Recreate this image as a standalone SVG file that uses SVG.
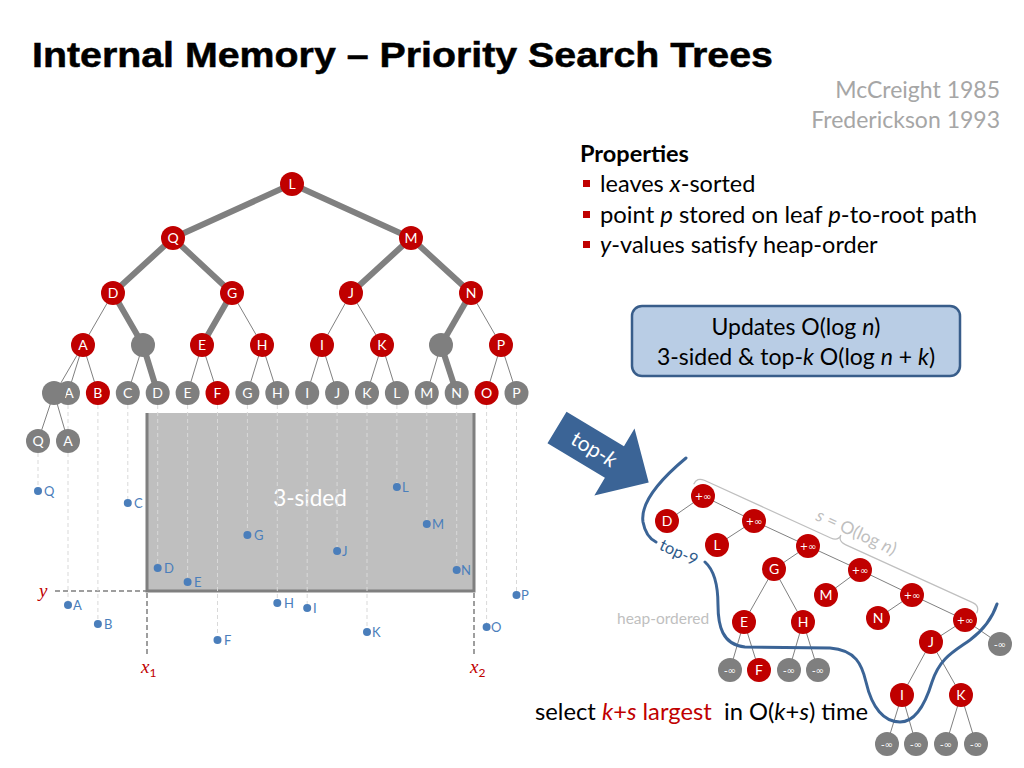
<svg xmlns="http://www.w3.org/2000/svg" width="1024" height="768" viewBox="0 0 1024 768">
<style>
.t{font-family:Lato,"Liberation Sans",sans-serif}
.thick{stroke:#808080;stroke-width:6;stroke-linecap:round;fill:none}
.thin{stroke:#808080;stroke-width:1;fill:none}
.dash{stroke:#D9D9D9;stroke-width:1;stroke-dasharray:4 3;fill:none}
.red{fill:#C00000}
.gray{fill:#7F7F7F}
.nl{font-family:Lato,"Liberation Sans",sans-serif;font-size:14px;fill:#fff;text-anchor:middle}
.inf{font-family:"DejaVu Sans",sans-serif;font-size:10px;fill:#fff;text-anchor:middle}
.pt{fill:#4A7EBB}
.pl{font-family:Lato,"Liberation Sans",sans-serif;font-size:13px;fill:#4A7EBB}
.lbl{font-family:"Liberation Serif",serif;font-style:italic;font-size:19px;fill:#C00000}
</style>
<rect width="1024" height="768" fill="#fff"/>
<text x="32" y="67" font-family="Liberation Sans,sans-serif" font-weight="bold" font-size="35" textLength="741" lengthAdjust="spacingAndGlyphs" stroke="#000" stroke-width="0.5">Internal Memory – Priority Search Trees</text>
<g id="refs" class="t" fill="#A6A6A6" font-size="23" text-anchor="end">
<text x="1000" y="98">McCreight 1985</text>
<text x="1000" y="128">Frederickson 1993</text>
</g>
<g id="properties" class="t" font-size="23.5" fill="#000">
<text x="580" y="162" font-weight="bold">Properties</text>
<rect x="583" y="180" width="7" height="7" fill="#C00000"/>
<rect x="583" y="211" width="7" height="7" fill="#C00000"/>
<rect x="583" y="241" width="7" height="7" fill="#C00000"/>
<text x="600" y="192">leaves <tspan font-style="italic">x</tspan>-sorted</text>
<text x="600" y="223" textLength="377" lengthAdjust="spacingAndGlyphs">point <tspan font-style="italic">p</tspan> stored on leaf <tspan font-style="italic">p</tspan>-to-root path</text>
<text x="600" y="253"><tspan font-style="italic">y</tspan>-values satisfy heap-order</text>
</g>
<g id="updates">
<rect x="632" y="306" width="328" height="70" rx="10" fill="#B9CDE5" stroke="#385D8A" stroke-width="2.5"/>
<text class="t" x="796" y="335" font-size="23" text-anchor="middle">Updates O(log <tspan font-style="italic">n</tspan>)</text>
<text class="t" x="796" y="365" font-size="23" text-anchor="middle">3-sided &amp; top-<tspan font-style="italic">k</tspan> O(log <tspan font-style="italic">n</tspan> + <tspan font-style="italic">k</tspan>)</text>
</g>
<!-- 3-sided region -->
<g id="region">
<rect x="147" y="413" width="327" height="178" fill="#BFBFBF"/>
<polyline points="147,413 147,591 474,591 474,413" fill="none" stroke="#7F7F7F" stroke-width="3"/>
<text class="t" x="310" y="506" font-size="22.5" fill="#fff" text-anchor="middle">3-sided</text>
<g stroke="#7F7F7F" stroke-width="1.5" stroke-dasharray="5 3" fill="none">
<line x1="55" y1="591" x2="147" y2="591"/>
<line x1="147" y1="593" x2="147" y2="656"/>
<line x1="474" y1="593" x2="474" y2="656"/>
</g>
<text class="lbl" x="39" y="597">y</text>
<text class="lbl" x="141" y="673">x<tspan font-size="12" font-style="normal" font-family="Lato,sans-serif" dy="4">1</tspan></text>
<text class="lbl" x="470" y="673">x<tspan font-size="12" font-style="normal" font-family="Lato,sans-serif" dy="4">2</tspan></text>
</g>
<g id="connectors">
<g class="dash">
<line x1="38" y1="453" x2="38" y2="487"/>
<line x1="68" y1="405" x2="68" y2="429"/>
<line x1="68" y1="453" x2="68" y2="601"/>
<line x1="97.9" y1="405" x2="97.9" y2="620"/>
<line x1="127.8" y1="405" x2="127.8" y2="499"/>
<line x1="157.7" y1="405" x2="157.7" y2="564"/>
<line x1="187.6" y1="405" x2="187.6" y2="578"/>
<line x1="217.5" y1="405" x2="217.5" y2="636"/>
<line x1="247.4" y1="405" x2="247.4" y2="531"/>
<line x1="277.3" y1="405" x2="277.3" y2="599"/>
<line x1="307.2" y1="405" x2="307.2" y2="604"/>
<line x1="337.1" y1="405" x2="337.1" y2="547"/>
<line x1="367" y1="405" x2="367" y2="628"/>
<line x1="396.9" y1="405" x2="396.9" y2="483"/>
<line x1="426.8" y1="405" x2="426.8" y2="520"/>
<line x1="456.7" y1="405" x2="456.7" y2="566"/>
<line x1="486.6" y1="405" x2="486.6" y2="623"/>
<line x1="516.5" y1="405" x2="516.5" y2="591"/>
</g>
<g class="thick">
<line x1="292" y1="184" x2="173" y2="238"/>
<line x1="292" y1="184" x2="411" y2="238"/>
<line x1="173" y1="238" x2="113" y2="293"/>
<line x1="173" y1="238" x2="232" y2="293"/>
<line x1="411" y1="238" x2="351" y2="293"/>
<line x1="411" y1="238" x2="471" y2="293"/>
<line x1="113" y1="293" x2="143" y2="345"/>
<line x1="143" y1="345" x2="157.7" y2="393"/>
<line x1="232" y1="293" x2="202" y2="345"/>
<line x1="471" y1="293" x2="441" y2="345"/>
<line x1="441" y1="345" x2="456.7" y2="393"/>
</g>
<g class="thin">
<line x1="113" y1="293" x2="83" y2="345"/>
<line x1="232" y1="293" x2="262" y2="345"/>
<line x1="351" y1="293" x2="322" y2="345"/>
<line x1="351" y1="293" x2="382" y2="345"/>
<line x1="471" y1="293" x2="501" y2="345"/>
<line x1="83" y1="345" x2="55" y2="393"/>
<line x1="83" y1="345" x2="68" y2="393"/>
<line x1="83" y1="345" x2="97.9" y2="393"/>
<line x1="143" y1="345" x2="127.8" y2="393"/>
<line x1="202" y1="345" x2="187.6" y2="393"/>
<line x1="202" y1="345" x2="217.5" y2="393"/>
<line x1="262" y1="345" x2="247.4" y2="393"/>
<line x1="262" y1="345" x2="277.3" y2="393"/>
<line x1="322" y1="345" x2="307.2" y2="393"/>
<line x1="322" y1="345" x2="337.1" y2="393"/>
<line x1="382" y1="345" x2="367" y2="393"/>
<line x1="382" y1="345" x2="396.9" y2="393"/>
<line x1="441" y1="345" x2="426.8" y2="393"/>
<line x1="501" y1="345" x2="486.6" y2="393"/>
<line x1="501" y1="345" x2="516.5" y2="393"/>
<line x1="54" y1="393" x2="38" y2="441"/>
<line x1="54" y1="393" x2="68" y2="441"/>
</g>
<!-- heap tree edges -->
<g class="thin">
<line x1="703" y1="496" x2="667" y2="521"/>
<line x1="703" y1="496" x2="754" y2="521"/>
<line x1="754" y1="521" x2="717" y2="545"/>
<line x1="754" y1="521" x2="808" y2="546"/>
<line x1="808" y1="546" x2="774" y2="569"/>
<line x1="808" y1="546" x2="860" y2="570"/>
<line x1="774" y1="569" x2="744" y2="622"/>
<line x1="774" y1="569" x2="803" y2="622"/>
<line x1="860" y1="570" x2="826" y2="595"/>
<line x1="860" y1="570" x2="912" y2="595"/>
<line x1="912" y1="595" x2="878" y2="618"/>
<line x1="912" y1="595" x2="965" y2="620"/>
<line x1="965" y1="620" x2="931" y2="642"/>
<line x1="965" y1="620" x2="1000" y2="644"/>
<line x1="744" y1="622" x2="730" y2="670"/>
<line x1="744" y1="622" x2="759" y2="670"/>
<line x1="803" y1="622" x2="789" y2="670"/>
<line x1="803" y1="622" x2="818" y2="670"/>
<line x1="931" y1="642" x2="902" y2="695"/>
<line x1="931" y1="642" x2="961" y2="695"/>
<line x1="902" y1="695" x2="887" y2="744"/>
<line x1="902" y1="695" x2="916" y2="744"/>
<line x1="961" y1="695" x2="946" y2="744"/>
<line x1="961" y1="695" x2="976" y2="744"/>
</g>
</g>
<!-- top tree nodes -->
<g id="n-L"><circle cx="292" cy="184" r="12" class="red"/><text class="nl" x="292" y="189">L</text></g>
<g id="n-Q"><circle cx="173" cy="238" r="12" class="red"/><text class="nl" x="173" y="243">Q</text></g>
<g id="n-M"><circle cx="411" cy="238" r="12" class="red"/><text class="nl" x="411" y="243">M</text></g>
<g id="n-D"><circle cx="113" cy="293" r="12" class="red"/><text class="nl" x="113" y="298">D</text></g>
<g id="n-G"><circle cx="232" cy="293" r="12" class="red"/><text class="nl" x="232" y="298">G</text></g>
<g id="n-J"><circle cx="351" cy="293" r="12" class="red"/><text class="nl" x="351" y="298">J</text></g>
<g id="n-N"><circle cx="471" cy="293" r="12" class="red"/><text class="nl" x="471" y="298">N</text></g>
<g id="n-A"><circle cx="83" cy="345" r="12" class="red"/><text class="nl" x="83" y="350">A</text></g>
<g id="n-g1"><circle cx="143" cy="345" r="12" class="gray"/></g>
<g id="n-E"><circle cx="202" cy="345" r="12" class="red"/><text class="nl" x="202" y="350">E</text></g>
<g id="n-H"><circle cx="262" cy="345" r="12" class="red"/><text class="nl" x="262" y="350">H</text></g>
<g id="n-I"><circle cx="322" cy="345" r="12" class="red"/><text class="nl" x="322" y="350">I</text></g>
<g id="n-K"><circle cx="382" cy="345" r="12" class="red"/><text class="nl" x="382" y="350">K</text></g>
<g id="n-g2"><circle cx="441" cy="345" r="12" class="gray"/></g>
<g id="n-P"><circle cx="501" cy="345" r="12" class="red"/><text class="nl" x="501" y="350">P</text></g>
<!-- leaves -->
<g id="leaf-A"><circle cx="68" cy="393" r="12" class="gray"/><text class="nl" x="69" y="398">A</text></g>
<g id="leaf-blob"><circle cx="54" cy="393" r="12" class="gray"/></g>
<g id="leaf-B"><circle cx="97.9" cy="393" r="12" class="red"/><text class="nl" x="97.9" y="398">B</text></g>
<g id="leaf-C"><circle cx="127.8" cy="393" r="12" class="gray"/><text class="nl" x="127.8" y="398">C</text></g>
<g id="leaf-D"><circle cx="157.7" cy="393" r="12" class="gray"/><text class="nl" x="157.7" y="398">D</text></g>
<g id="leaf-E"><circle cx="187.6" cy="393" r="12" class="gray"/><text class="nl" x="187.6" y="398">E</text></g>
<g id="leaf-F"><circle cx="217.5" cy="393" r="12" class="red"/><text class="nl" x="217.5" y="398">F</text></g>
<g id="leaf-G"><circle cx="247.4" cy="393" r="12" class="gray"/><text class="nl" x="247.4" y="398">G</text></g>
<g id="leaf-H"><circle cx="277.3" cy="393" r="12" class="gray"/><text class="nl" x="277.3" y="398">H</text></g>
<g id="leaf-I"><circle cx="307.2" cy="393" r="12" class="gray"/><text class="nl" x="307.2" y="398">I</text></g>
<g id="leaf-J"><circle cx="337.1" cy="393" r="12" class="gray"/><text class="nl" x="337.1" y="398">J</text></g>
<g id="leaf-K"><circle cx="367" cy="393" r="12" class="gray"/><text class="nl" x="367" y="398">K</text></g>
<g id="leaf-L"><circle cx="396.9" cy="393" r="12" class="gray"/><text class="nl" x="396.9" y="398">L</text></g>
<g id="leaf-M"><circle cx="426.8" cy="393" r="12" class="gray"/><text class="nl" x="426.8" y="398">M</text></g>
<g id="leaf-N"><circle cx="456.7" cy="393" r="12" class="gray"/><text class="nl" x="456.7" y="398">N</text></g>
<g id="leaf-O"><circle cx="486.6" cy="393" r="12" class="red"/><text class="nl" x="486.6" y="398">O</text></g>
<g id="leaf-P"><circle cx="516.5" cy="393" r="12" class="gray"/><text class="nl" x="516.5" y="398">P</text></g>
<g id="leaf-Q2"><circle cx="38" cy="441" r="12" class="gray"/><text class="nl" x="38" y="446">Q</text></g>
<g id="leaf-A2"><circle cx="68" cy="441" r="12" class="gray"/><text class="nl" x="68" y="446">A</text></g>
<!-- points -->
<g id="points">
<circle cx="38" cy="491" r="4" class="pt"/><text class="pl" x="44" y="496">Q</text>
<circle cx="68" cy="605" r="4" class="pt"/><text class="pl" x="73" y="610">A</text>
<circle cx="97.9" cy="624" r="4" class="pt"/><text class="pl" x="104" y="629">B</text>
<circle cx="127.8" cy="503" r="4" class="pt"/><text class="pl" x="134" y="508">C</text>
<circle cx="157.7" cy="568" r="4" class="pt"/><text class="pl" x="164" y="573">D</text>
<circle cx="187.6" cy="582" r="4" class="pt"/><text class="pl" x="194" y="587">E</text>
<circle cx="217.5" cy="640" r="4" class="pt"/><text class="pl" x="224" y="645">F</text>
<circle cx="247.4" cy="535" r="4" class="pt"/><text class="pl" x="254" y="540">G</text>
<circle cx="277.3" cy="603" r="4" class="pt"/><text class="pl" x="284" y="608">H</text>
<circle cx="307.2" cy="608" r="4" class="pt"/><text class="pl" x="313" y="613">I</text>
<circle cx="337.1" cy="551" r="4" class="pt"/><text class="pl" x="342" y="556">J</text>
<circle cx="367" cy="632" r="4" class="pt"/><text class="pl" x="372" y="637">K</text>
<circle cx="396.9" cy="487" r="4" class="pt"/><text class="pl" x="402" y="492">L</text>
<circle cx="426.8" cy="524" r="4" class="pt"/><text class="pl" x="432" y="529">M</text>
<circle cx="456.7" cy="570" r="4" class="pt"/><text class="pl" x="461" y="575">N</text>
<circle cx="486.6" cy="627" r="4" class="pt"/><text class="pl" x="491" y="632">O</text>
<circle cx="516.5" cy="595" r="4" class="pt"/><text class="pl" x="521" y="600">P</text>
</g>
<!-- top-k arrow -->
<g id="topk-arrow" transform="translate(557,427.5) rotate(31)">
<polygon points="0,-18.5 67,-18.5 67,-39 107,0 67,39 67,18.5 0,18.5" fill="#3B6496"/>
<text class="t" x="43" y="7" font-size="21" fill="#fff" text-anchor="middle">top-<tspan font-style="italic">k</tspan></text>
</g>
<!-- brace -->
<g id="brace" transform="translate(697,477) rotate(24.5)">
<path d="M0,8 Q0,0 8,0 L147,0 Q155,0 155,-7 Q155,0 163,0 L303,0 Q311,0 311,8" fill="none" stroke="#BFBFBF" stroke-width="1.2"/>
<text class="t" x="168" y="-10" font-size="17.5" fill="#BFBFBF" text-anchor="middle"><tspan font-style="italic">s</tspan> = O(log <tspan font-style="italic">n</tspan>)</text>
</g>
<!-- top-9 separating curve -->
<g id="top9" fill="none" stroke="#3B6496" stroke-width="3" stroke-linecap="round">
<path d="M686,458 C662,478 640,502 643,522 C645,533 650,539 656,542"/>
<path d="M705,562 C714,570 718,585 718,605 C718,625 722,645 745,647 L830,648 C856,650 862,665 866,682 C872,708 884,722 900,722 C915,722 925,705 932,682 C940,658 953,652 970,640 C986,628 993,616 997,604"/>
</g>
<text class="t" x="679" y="558" font-size="16.5" fill="#2E5A8A" text-anchor="middle" transform="rotate(25 679 552)">top-9</text>
<text class="t" x="617" y="624" font-size="15.5" fill="#BFBFBF">heap-ordered</text>
<!-- heap tree nodes -->
<g id="h-inf1"><circle cx="703" cy="496" r="12" class="red"/><text class="inf" x="703" y="500">+∞</text></g>
<g id="h-D"><circle cx="667" cy="521" r="12" class="red"/><text class="nl" x="667" y="526">D</text></g>
<g id="h-inf2"><circle cx="754" cy="521" r="12" class="red"/><text class="inf" x="754" y="525">+∞</text></g>
<g id="h-L"><circle cx="717" cy="545" r="12" class="red"/><text class="nl" x="717" y="550">L</text></g>
<g id="h-inf3"><circle cx="808" cy="546" r="12" class="red"/><text class="inf" x="808" y="550">+∞</text></g>
<g id="h-G"><circle cx="774" cy="569" r="12" class="red"/><text class="nl" x="774" y="574">G</text></g>
<g id="h-inf4"><circle cx="860" cy="570" r="12" class="red"/><text class="inf" x="860" y="574">+∞</text></g>
<g id="h-M"><circle cx="826" cy="595" r="12" class="red"/><text class="nl" x="826" y="600">M</text></g>
<g id="h-inf5"><circle cx="912" cy="595" r="12" class="red"/><text class="inf" x="912" y="599">+∞</text></g>
<g id="h-N"><circle cx="878" cy="618" r="12" class="red"/><text class="nl" x="878" y="623">N</text></g>
<g id="h-inf6"><circle cx="965" cy="620" r="12" class="red"/><text class="inf" x="965" y="624">+∞</text></g>
<g id="h-E"><circle cx="744" cy="622" r="12" class="red"/><text class="nl" x="744" y="627">E</text></g>
<g id="h-H"><circle cx="803" cy="622" r="12" class="red"/><text class="nl" x="803" y="627">H</text></g>
<g id="h-J"><circle cx="931" cy="642" r="12" class="red"/><text class="nl" x="931" y="647">J</text></g>
<g id="h-ninf1"><circle cx="1000" cy="644" r="12" class="gray"/><text class="inf" x="1000" y="648">-∞</text></g>
<g id="h-ninf2"><circle cx="730" cy="670" r="12" class="gray"/><text class="inf" x="730" y="674">-∞</text></g>
<g id="h-F"><circle cx="759" cy="670" r="12" class="red"/><text class="nl" x="759" y="675">F</text></g>
<g id="h-ninf3"><circle cx="789" cy="670" r="12" class="gray"/><text class="inf" x="789" y="674">-∞</text></g>
<g id="h-ninf4"><circle cx="818" cy="670" r="12" class="gray"/><text class="inf" x="818" y="674">-∞</text></g>
<g id="h-I"><circle cx="902" cy="695" r="12" class="red"/><text class="nl" x="902" y="700">I</text></g>
<g id="h-K"><circle cx="961" cy="695" r="12" class="red"/><text class="nl" x="961" y="700">K</text></g>
<g id="h-ninf5"><circle cx="887" cy="744" r="12" class="gray"/><text class="inf" x="887" y="748">-∞</text></g>
<g id="h-ninf6"><circle cx="916" cy="744" r="12" class="gray"/><text class="inf" x="916" y="748">-∞</text></g>
<g id="h-ninf7"><circle cx="946" cy="744" r="12" class="gray"/><text class="inf" x="946" y="748">-∞</text></g>
<g id="h-ninf8"><circle cx="976" cy="744" r="12" class="gray"/><text class="inf" x="976" y="748">-∞</text></g>
<text class="t" x="535" y="720" font-size="24" fill="#000" textLength="333" lengthAdjust="spacingAndGlyphs">select <tspan fill="#C00000" font-style="italic">k</tspan><tspan fill="#C00000">+</tspan><tspan fill="#C00000" font-style="italic">s</tspan><tspan fill="#C00000"> largest</tspan>&#160; in O(<tspan font-style="italic">k</tspan>+<tspan font-style="italic">s</tspan>) time</text>
</svg>
